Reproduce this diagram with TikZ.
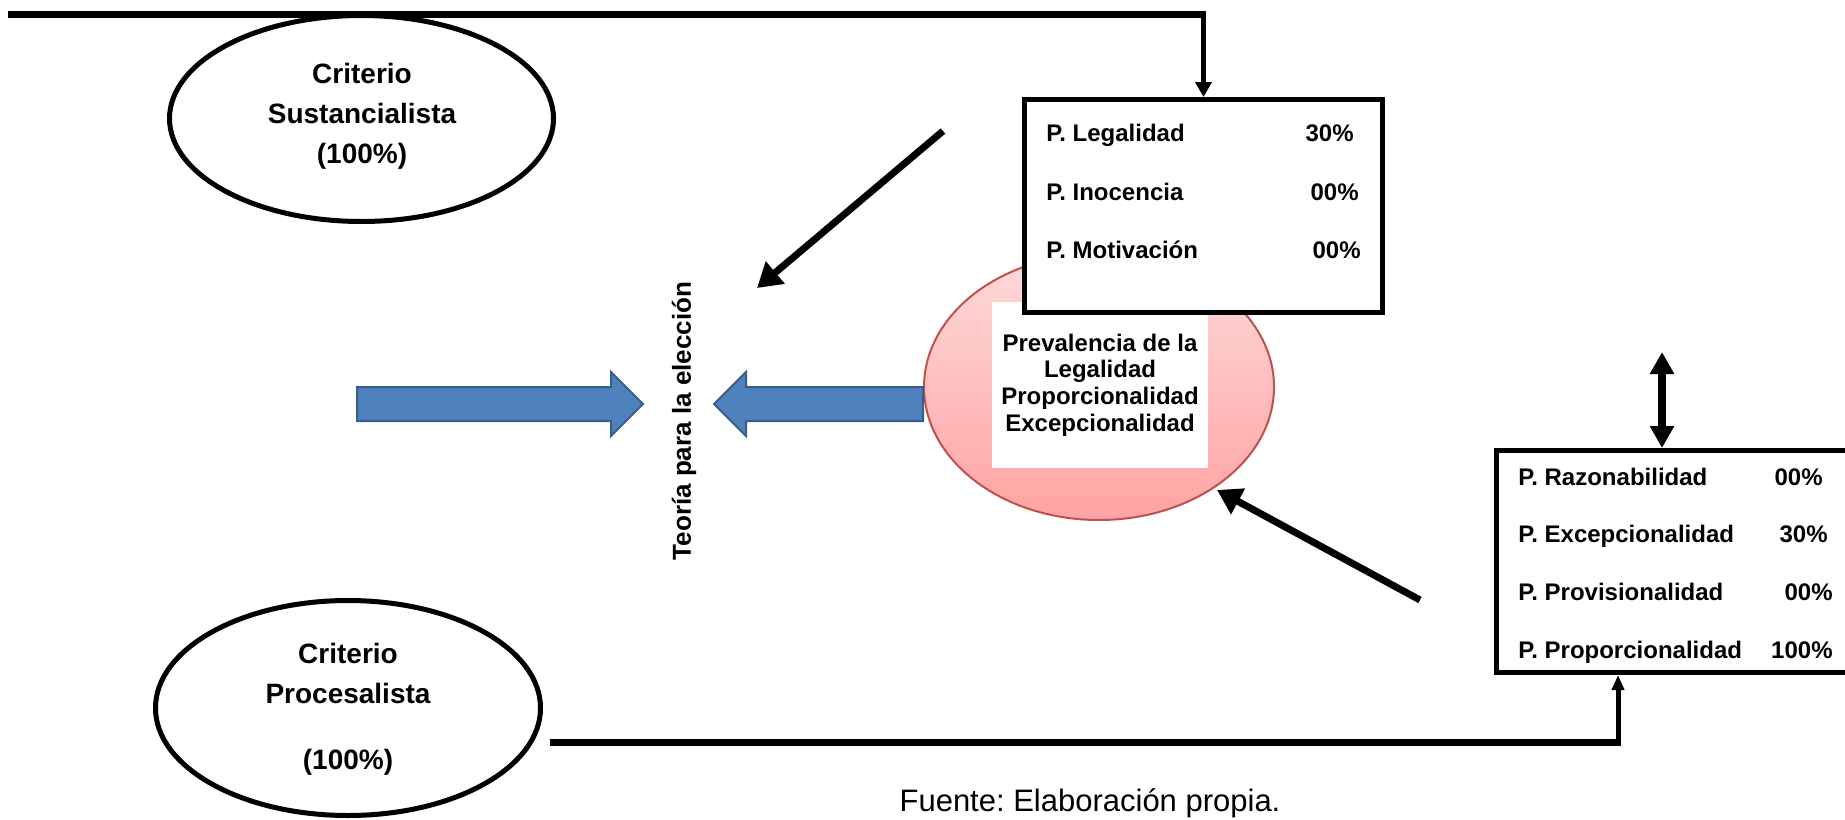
\documentclass[tikz,border=0pt]{standalone}
\usepackage{fontspec}
\setmainfont{Liberation Sans}
\usetikzlibrary{shapes.geometric,shapes.arrows,arrows.meta}
\definecolor{blueFill}{HTML}{4F81BD}
\definecolor{blueLine}{HTML}{385D8A}
\definecolor{pinkTop}{HTML}{FFDADA}
\definecolor{pinkBot}{HTML}{FFA3A3}
\definecolor{pinkLine}{HTML}{C0504D}
\frenchspacing

\begin{document}
\begin{tikzpicture}[x=0.5pt,y=-0.5pt,
  crit/.style={draw,ellipse,line width=2.5pt,inner sep=0pt},
  ctext/.style={align=center,inner sep=0pt,font=\bfseries\fontsize{14}{20}\selectfont},
  pbox/.style={draw,rectangle,fill=white,line width=2.5pt,inner sep=0pt},
  item/.style={anchor=base west,inner sep=0pt,font=\bfseries\fontsize{12}{14}\selectfont},
  pct/.style={anchor=base east,inner sep=0pt,font=\bfseries\fontsize{12}{14}\selectfont},
  bigarrow/.style={single arrow,draw=blueLine,fill=blueFill,line width=1pt,inner xsep=0pt,inner ysep=8pt,
    single arrow head extend=7.5pt,single arrow tip angle=90,single arrow head indent=0pt,anchor=tail},
  thickline/.style={line width=3.5pt},
  blackarrow/.style={line width=3.5pt,-{Triangle[length=12pt,width=14pt]}}]
\useasboundingbox (0,0) rectangle (1845,819);

\node[crit,minimum width=192pt,minimum height=103pt] (sust) at (361.5,118.5) {};
\node[ctext] (sustT) at (362,116) {Criterio\\Sustancialista\\(100\%)};
\node[crit,minimum width=192.5pt,minimum height=107.5pt] (proc) at (348,708) {};
\node[ctext] (procT) at (348,709) {Criterio\\Procesalista\\[13pt](100\%)};

\node[ellipse,draw=pinkLine,line width=1pt,top color=pinkTop,bottom color=pinkBot,
  minimum width=175pt,minimum height=133pt,inner sep=0pt] (prev) at (1099,387) {};
\node[fill=white,minimum width=108pt,minimum height=83pt,align=center,inner sep=0pt,
  font=\bfseries\fontsize{12}{13.3}\selectfont] (prevT) at (1100,385)
  {Prevalencia de la\\Legalidad\\Proporcionalidad\\Excepcionalidad};

\node[pbox,minimum width=179pt,minimum height=106.5pt] (legal) at (1203.5,206) {};
\node[item] (l1) at (1046,141.7) {P. Legalidad};
\node[item] (l2) at (1046,200) {P. Inocencia};
\node[item] (l3) at (1046,258) {P. Motivación};
\node[pct] (l1p) at (1354,141.7) {30\%};
\node[pct] (l2p) at (1359,200) {00\%};
\node[pct] (l3p) at (1361,258) {00\%};

\node[pbox,minimum width=181.75pt,minimum height=111pt] (razon) at (1678.25,561.5) {};
\node[item] (r1) at (1518,485) {P. Razonabilidad};
\node[item] (r2) at (1518,542) {P. Excepcionalidad};
\node[item] (r3) at (1518,600) {P. Provisionalidad};
\node[item] (r4) at (1518,658) {P. Proporcionalidad};
\node[pct] (r1p) at (1823,485) {00\%};
\node[pct] (r2p) at (1828,542) {30\%};
\node[pct] (r3p) at (1833,600) {00\%};
\node[pct] (r4p) at (1833,658) {100\%};

\node[rotate=90,font=\bfseries\fontsize{13}{15}\selectfont] (teoria) at (684,421) {Teoría para la elección};

\node[bigarrow,minimum height=143pt] (arrL) at (356,404) {};
\node[bigarrow,shape border rotate=180,minimum height=104.5pt] (arrR) at (924,404) {};

\node[font=\fontsize{15.5}{18}\selectfont] (fuente) at (1090,803) {Fuente: Elaboración propia.};

\coordinate (tl) at (8,14.5);
\coordinate (tc) at (1203.5,14.5);
\coordinate (bl) at (550,742);
\coordinate (bc) at (1618,742);
\coordinate (dtop) at (1662,352);
\coordinate (a1s) at (943,131);
\coordinate (a1e) at (757,288);
\coordinate (a2s) at (1420,600);
\coordinate (a2e) at (1217,490);

\path[draw,thickline] (tl) -- (tc);
\path[draw,line width=2.5pt,-{Triangle[length=7.5pt,width=8pt]}] ([yshift=1.75pt]tc) -- (legal.north);
\path[draw,thickline] (bl) -- (bc);
\path[draw,line width=2.5pt,-{Triangle[length=7.5pt,width=6pt]}] ([yshift=-1.75pt]bc) -- (bc |- razon.south);
\path[draw,line width=4pt,{Triangle[length=11pt,width=11.5pt]}-{Triangle[length=11pt,width=11.5pt]}] (dtop) -- (dtop |- razon.north);
\path[draw,blackarrow] (a1s) -- (a1e);
\path[draw,blackarrow] (a2s) -- (a2e);
\end{tikzpicture}
\end{document}
